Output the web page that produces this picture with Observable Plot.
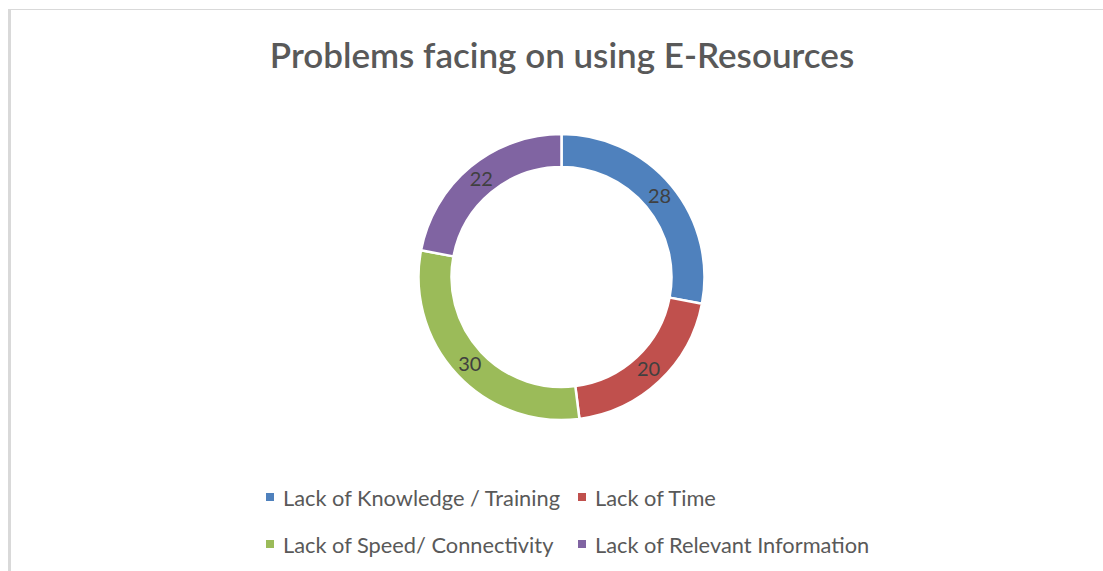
<!DOCTYPE html>
<html>
<head>
<meta charset="utf-8">
<script src="https://cdn.jsdelivr.net/npm/d3@7"></script>
<script src="https://cdn.jsdelivr.net/npm/@observablehq/plot@0.6"></script>
<style>
  html, body { margin: 0; padding: 0; background: #fff; }
  #wrap { position: relative; width: 1103px; height: 571px; overflow: hidden; background: #fff; font-family: Lato, "Open Sans", sans-serif; }
  #wrap svg { position: absolute; left: 0; top: 0; }
  .frame-top { position: absolute; left: 8px; top: 9px; width: 1095px; height: 1px; background: #d9d9d9; }
  .frame-left { position: absolute; left: 8px; top: 9px; width: 3px; height: 562px; background: #d9d9d9; }
  #title { position: absolute; left: 562px; top: 32px; transform: translateX(-50%); white-space: nowrap;
           font-size: 35px; font-weight: 600; color: #595959; line-height: 44px; }
  .leg { position: absolute; display: flex; align-items: center; white-space: nowrap; font-size: 21.8px; color: #595959; height: 26px; }
  .leg .sw { width: 8px; height: 8px; margin-right: 9px; }
</style>
</head>
<body>
<div id="wrap">
  <div class="frame-top"></div>
  <div class="frame-left"></div>
</div>
<script>
// ---- data ----
const titleText = "Problems facing on using E-Resources";
const categories = ["Lack of Knowledge / Training", "Lack of Time", "Lack of Speed/ Connectivity", "Lack of Relevant Information"];
const values = [28, 20, 30, 22];
const colors = ["#4F81BD", "#C0504D", "#9BBB59", "#8064A2"];

// ---- layout ----
const W = 1103, H = 571;
const cx = 561.5, cy = 277, R = 143;
const innerFrac = 110 / 143;
const labelFrac = (1 + innerFrac) / 2;

const table = categories.map((c, i) => ({category: c, value: values[i]}));
const arcs = d3.pie().sort(null).value(d => d.value)(table);

const plot = Plot.plot({
  width: W,
  height: H,
  style: {background: "transparent"},
  x: {domain: [-1, 1], range: [cx - R, cx + R], axis: null},
  y: {domain: [-1, 1], range: [cy + R, cy - R], axis: null},
  color: {domain: categories, range: colors},
  marks: [
    Plot.dot(arcs, {
      x: d => 0,
      y: d => 0,
      fill: d => d.data.category,
      render: (index, scales, vals) => {
        const g = d3.create("svg:g");
        const ro = Math.abs(scales.x(1) - scales.x(0));
        const ri = ro * innerFrac;
        const arc = d3.arc().innerRadius(ri).outerRadius(ro);
        for (const i of index) {
          g.append("path")
            .attr("transform", `translate(${vals.x[i]},${vals.y[i]})`)
            .attr("d", arc(arcs[i]))
            .attr("fill", vals.fill[i])
            .attr("stroke", "#fff")
            .attr("stroke-width", 2.5);
        }
        return g.node();
      }
    }),
    Plot.text(arcs, {
      x: d => labelFrac * Math.sin((d.startAngle + d.endAngle) / 2),
      y: d => labelFrac * Math.cos((d.startAngle + d.endAngle) / 2),
      text: d => String(d.data.value),
      fontSize: 20,
      fontFamily: "Lato, 'Open Sans', sans-serif",
      fill: "#404040"
    })
  ]
});

const wrap = document.getElementById("wrap");
wrap.appendChild(plot);

const title = document.createElement("div");
title.id = "title";
title.textContent = titleText;
wrap.appendChild(title);

// legend (2 columns x 2 rows)
const legX = [266, 578];
const legY = [497, 544];
categories.forEach((c, i) => {
  const item = document.createElement("div");
  item.className = "leg";
  item.style.left = legX[i % 2] + "px";
  item.style.top = (legY[Math.floor(i / 2)] - 13) + "px";
  const sw = document.createElement("span");
  sw.className = "sw";
  sw.style.background = colors[i];
  const tx = document.createElement("span");
  tx.textContent = c;
  item.appendChild(sw);
  item.appendChild(tx);
  wrap.appendChild(item);
});
</script>
</body>
</html>
